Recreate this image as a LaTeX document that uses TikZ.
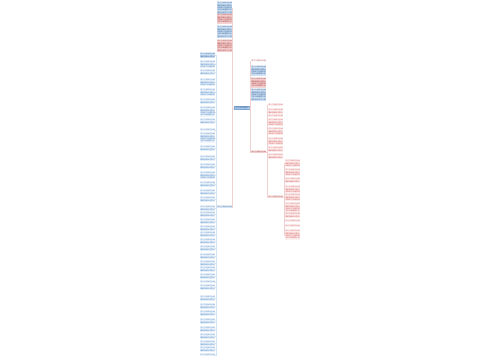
\documentclass[tikz,border=0pt]{standalone}
\usepackage{fontspec}
\newfontfamily\cjk{Noto Sans CJK SC}
\newcommand\fti{学习方法技巧总结}
\newcommand\ftii{学习方法技巧总结\\理解基础知识要点}
\newcommand\ftiii{学习方法技巧总结\\理解基础知识要点\\多做练习巩固提高}
\newcommand\ftiv{学习方法技巧总结\\理解基础知识要点\\多做练习巩固提高\\注意归纳错题分析}
\newcommand\ftv{学习方法技巧总结\\理解基础知识要点\\多做练习巩固提高\\注意归纳错题分析\\培养良好学习习惯}
\newcommand\ft[1]{\csname ft\romannumeral#1\endcsname}
\definecolor{boxblue}{HTML}{CFE1F4}
\definecolor{boxpink}{HTML}{F4D3D3}
\definecolor{txtblue}{HTML}{2A5E96}
\definecolor{txtred}{HTML}{A83434}
\definecolor{listblue}{HTML}{3F7DC0}
\definecolor{listred}{HTML}{D65050}
\definecolor{lfill}{HTML}{EDF4FB}
\definecolor{rfill}{HTML}{FCF1F1}
\definecolor{cfill}{HTML}{A9C7E7}
\definecolor{cdraw}{HTML}{7FA6CF}
\definecolor{lpink}{HTML}{F0D2D2}
\definecolor{lblue}{HTML}{D3E2F2}
\tikzset{
  tb/.style={inner sep=0.4pt, outer sep=0pt, font=\cjk\fontsize{1.8}{2.35}\selectfont,
    align=left, text width=14.4pt, anchor=north west},
  bbox/.style={tb, fill=boxblue, text=txtblue},
  pbox/.style={tb, fill=boxpink, text=txtred},
  bitem/.style={tb, fill=lfill, text=listblue},
  ritem/.style={tb, fill=rfill, text=listred},
  cnode/.style={inner sep=0.5pt, outer sep=0pt, font=\cjk\fontsize{2}{2.4}\selectfont,
    text width=14pt, align=center, fill=cfill, draw=cdraw, line width=0.2pt, text=txtblue},
  pline/.style={draw=lpink, line width=0.3pt},
  bline/.style={draw=lblue, line width=0.3pt}
}
\begin{document}
\begin{tikzpicture}[x=1pt,y=-1pt]
\useasboundingbox (0,0) rectangle (500,360);
\fill[white] (0,0) rectangle (500,360);
% central
\node[cnode] (C) at (241.5,108) {学习方法总结};
% top-left boxes
\node[bbox] (t1) at (217,2) {\ft{5}};
\node[pbox] (t2) at (217,14) {\ft{4}};
\node[bbox] (t3) at (217,26) {\ft{5}};
\node[pbox] (t4) at (217,40) {\ft{5}};
\node[tb, fill=boxblue!70, text=txtblue] (L) at (217,206) {\ft{1}};
\foreach \k in {1,...,4}{\draw[pline] (C.west) -- ++(-1.5,0) |- (t\k.east);}
\draw[pline] (C.west) -- ++(-1.5,0) |- (L.east);
% left list
\node[bbox] (l0) at (200,53) {\ft{2}};
\draw[bline] (L.west) -- ++(-1,0) |- (l0.east);
\foreach \y/\n [count=\k] in {61/3,70/2,79/3,89/3,99/2,107/4,119/2,129/1,133/4,146/2,156/2,164/2,172/3,182/2,190/2,197/2,206/2,212/2,219/2,226/2,232/2,239/2,246/2,254/2,261/2,267/2,274/2,281/1,285/2,296/2,304/2,311/2,319/2,327/2,334/2,341/2,347/2,354/1}{
  \node[bitem] (l\k) at (200,\y) {\ft{\n}};
  \draw[bline] (L.west) -- ++(-1,0) |- (l\k.east);
}
% right top
\node[tb, text=txtred] (r0) at (251,59.5) {\ft{1}};
\node[bbox] (r1) at (251,66) {\ft{4}};
\node[pbox] (r2) at (251,78) {\ft{4}};
\node[bbox] (r3) at (251,89) {\ft{5}};
\node[tb, fill=boxpink, text=txtred] (A) at (251,151) {\ft{1}};
\foreach \k in {0,...,3}{\draw[pline] (C.east) -- ++(1,0) |- (r\k.west);}
\draw[pline] (C.east) -- ++(1,0) |- (A.west);
% A children
\foreach \y/\n [count=\k] in {104/1,109/2,115/1,119/3,128/3,138/3,147/2,154/2}{
  \node[ritem] (a\k) at (268,\y) {\ft{\n}};
  \draw[pline] (A.east) -- ++(1.2,0) |- (a\k.west);
}
\node[tb, fill=boxpink!70, text=txtred] (B) at (268,196) {\ft{1}};
\draw[pline] (A.east) -- ++(1.2,0) |- (B.west);
% B children
\foreach \y/\n [count=\k] in {160/3,169/3,178/2,186/3,194/3,203/4,213/2,220/1,225/1,230/4}{
  \node[ritem] (b\k) at (285,\y) {\ft{\n}};
  \draw[pline] (B.east) -- ++(1.2,0) |- (b\k.west);
}
\end{tikzpicture}
\end{document}
